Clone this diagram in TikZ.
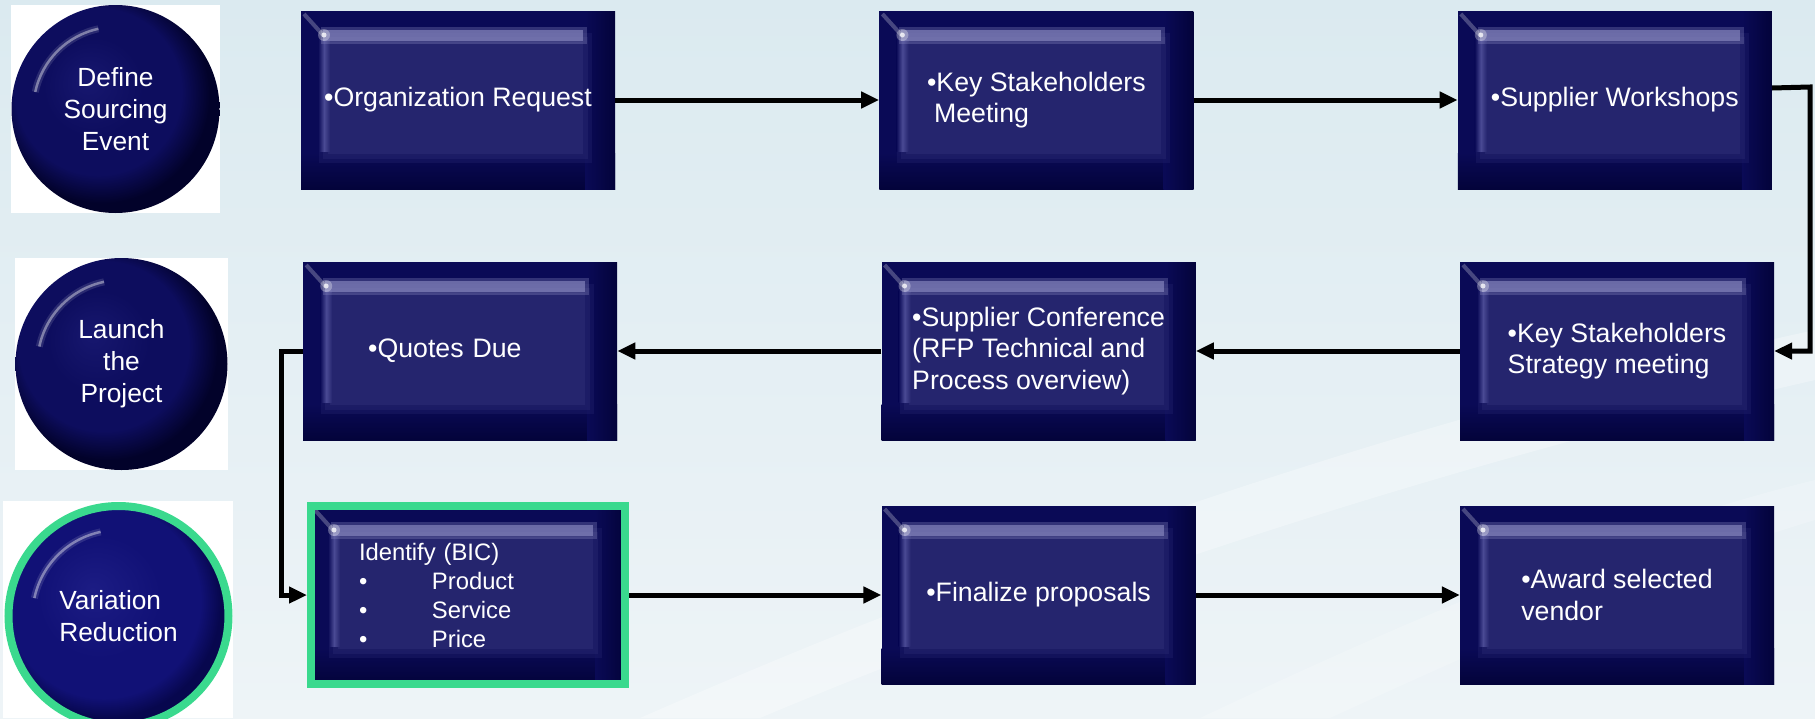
\documentclass[tikz,border=0pt]{standalone}
\usepackage{fontspec}
\setmainfont{Liberation Sans}
\usepackage{tikz}
\usetikzlibrary{positioning,arrows.meta}

\definecolor{navyedge}{HTML}{0A0A56}
\definecolor{navydark}{HTML}{03033A}
\definecolor{navypanel}{HTML}{25256E}
\definecolor{navyglow}{HTML}{9090C6}
\definecolor{navyside}{HTML}{4A4A94}
\definecolor{mint}{HTML}{3AD98E}
\definecolor{skytop}{HTML}{DBEAF0}
\definecolor{skybot}{HTML}{EEF4F7}
\definecolor{orbA}{HTML}{17176F}
\definecolor{orbB}{HTML}{0D0D5E}
\definecolor{orbC}{HTML}{02022A}
\definecolor{orbD}{HTML}{1C1C84}
\definecolor{orbE}{HTML}{111176}
\definecolor{orbF}{HTML}{07074E}

\pgfdeclareradialshading{orb}{\pgfpoint{-7bp}{7bp}}{color(0bp)=(orbA); color(12bp)=(orbB); color(20bp)=(orbB); color(26bp)=(orbC); color(50bp)=(orbC)}
\pgfdeclareradialshading{orbgreen}{\pgfpoint{-6bp}{6bp}}{color(0bp)=(orbD); color(14bp)=(orbE); color(22bp)=(orbE); color(26bp)=(orbF); color(50bp)=(orbF)}

\newcommand{\stagefont}{\fontsize{26.7pt}{31.5pt}\selectfont}
\newcommand{\listfont}{\fontsize{23.8pt}{29pt}\selectfont}
\newcommand{\orbfont}{\fontsize{26.3pt}{32pt}\selectfont}

\begin{document}
\begin{tikzpicture}[x=1pt,y=-1pt,>={Triangle[length=18pt,width=16pt]},node distance=264pt,
	stage/.style={rectangle,minimum width=314pt,minimum height=178pt,inner sep=0pt,
		fill=navyedge,text=white,font=\stagefont,align=left,
		path picture={
			\coordinate (pa) at (path picture bounding box.south west);
			\coordinate (pb) at (path picture bounding box.north east);
			\coordinate (pc) at (pa |- pb);
			\shade[top color=navyedge,bottom color=navydark] ([yshift=36pt]pa) rectangle (pb |- pa);
			\shade[left color=navyedge,right color=navydark] ([xshift=-30pt]pb) rectangle (pb |- pa);
			\fill[navypanel,opacity=.35] ([shift={(18pt,26pt)}]pa) rectangle ([shift={(-23pt,-22pt)}]pb);
			\fill[navypanel,opacity=.5] ([shift={(22pt,30pt)}]pa) rectangle ([shift={(-27pt,-26pt)}]pb);
			\fill[navypanel] ([shift={(27pt,35pt)}]pa) rectangle ([shift={(-32pt,-31pt)}]pb);
			\shade[left color=navyedge,right color=navypanel,middle color=navyside] ([shift={(17pt,-28pt)}]pc) rectangle ([shift={(29pt,38pt)}]pa);
			\fill[navyglow,opacity=.3] ([shift={(20pt,-16pt)}]pc) rectangle ([shift={(-28pt,-33pt)}]pb);
			\fill[navyglow,opacity=.6] ([shift={(22pt,-19pt)}]pc) rectangle ([shift={(-32pt,-30pt)}]pb);
			\draw[white,opacity=.25,line width=4pt] ([shift={(3pt,-3pt)}]pc) -- ([shift={(22pt,-24pt)}]pc);
			\fill[white,opacity=.3] ([shift={(23pt,-24pt)}]pc) circle (6pt);
			\fill[white,opacity=.75] ([shift={(23pt,-24pt)}]pc) circle (2.5pt);
		}},
	chosen/.style={draw=mint,line width=8pt},
	phase/.style={circle,shade,shading=orb,inner sep=0pt,text=white,font=\orbfont,align=center},
	flow/.style={->,line width=5pt}]

	% backdrop
	\useasboundingbox (0,0) rectangle (1815,718);
	\shade[top color=skytop,bottom color=skybot] (0,0) rectangle (1815,718);
	\fill[white,opacity=.3] (640,718) .. controls (1000,560) and (1400,420) .. (1815,330) -- (1815,380) .. controls (1420,470) and (1040,600) .. (760,718) -- cycle;
	\fill[white,opacity=.2] (1200,718) .. controls (1450,600) and (1650,520) .. (1815,480) -- (1815,520) .. controls (1680,560) and (1500,640) .. (1330,718) -- cycle;
	\fill[white] (11,5) rectangle (220,213);
	\fill[white] (15,258) rectangle (228,470);
	\fill[white] (3,501) rectangle (233,718);

	% phases
	\node[phase,minimum size=208pt] (def) at (115.5,109) {Define\\Sourcing\\Event};
	\node[phase,minimum size=212pt] (lau) at (121.5,364) {Launch\\the\\Project};
	\node[phase,shading=orbgreen,minimum size=220pt,chosen,align=left] (var) at (118.5,616) {Variation\\Reduction};
	\draw[white,opacity=.12,line width=7pt] ([shift={(168:82pt)}]def.center) arc[start angle=168,end angle=102,radius=82pt];
	\draw[white,opacity=.4,line width=2.5pt] ([shift={(168:82pt)}]def.center) arc[start angle=168,end angle=102,radius=82pt];
	\draw[white,opacity=.12,line width=7pt] ([shift={(168:84pt)}]lau.center) arc[start angle=168,end angle=102,radius=84pt];
	\draw[white,opacity=.4,line width=2.5pt] ([shift={(168:84pt)}]lau.center) arc[start angle=168,end angle=102,radius=84pt];
	\draw[white,opacity=.12,line width=7pt] ([shift={(168:86pt)}]var.center) arc[start angle=168,end angle=102,radius=86pt];
	\draw[white,opacity=.4,line width=2.5pt] ([shift={(168:86pt)}]var.center) arc[start angle=168,end angle=102,radius=86pt];

	% steps
	\node[stage] (org) at (458,100) {•Organization Request};
	\node[stage] (ksm) [right=of org] {•Key Stakeholders\\\hspace*{7pt}Meeting};
	\node[stage] (sw) [right=of ksm] {•Supplier Workshops};
	\node[stage] (ks) at (1617,351) {•Key Stakeholders\\Strategy meeting};
	\node[stage] (sc) [left=of ks] {•Supplier Conference\\(RFP Technical and\\Process overview)};
	\node[stage,text width=184pt] (quo) [left=of sc] {•Quotes Due};
	\node[stage,chosen,font=\listfont,text width=218pt] (bic) at (468,595) {Identify (BIC)\\\makebox[73pt][l]{•}Product\\\makebox[73pt][l]{•}Service\\\makebox[73pt][l]{•}Price};
	\node[stage] (award) at (1617,595) {•Award selected\\vendor};
	\node[stage] (fin) [left=of award] {•Finalize proposals};
	\coordinate (turn) at (1810,87);

	\draw[flow] (org) -- (ksm);
	\draw[flow] (ksm) -- (sw);
	\draw[flow] ([yshift=12pt]sw.east) -- (turn) |- (ks.east);
	\draw[flow] (ks) -- (sc);
	\draw[flow] (sc) -- (quo);
	\draw[flow] (quo.west) -- ++(-22,0) |- (bic.west);
	\draw[flow] (bic) -- (fin);
	\draw[flow] (fin) -- (award);
\end{tikzpicture}
\end{document}
